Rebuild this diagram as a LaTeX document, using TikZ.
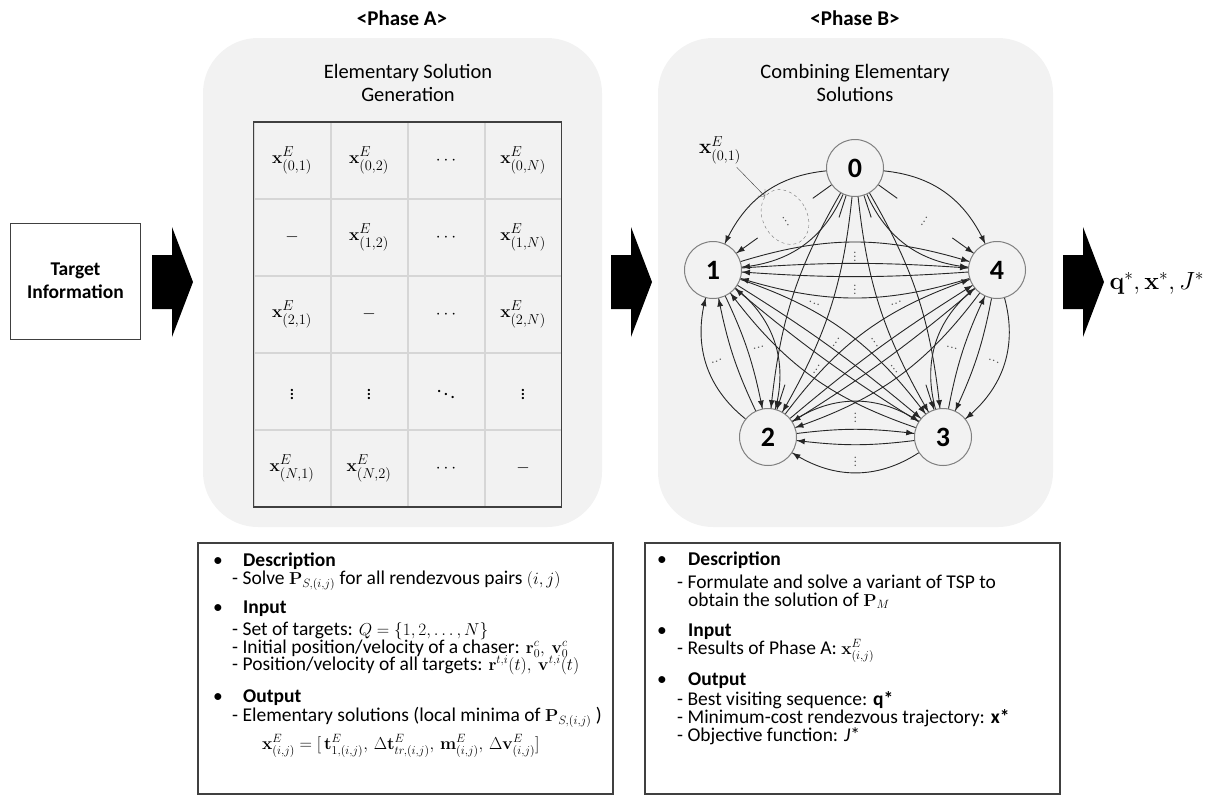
\documentclass[tikz,border=0pt]{standalone}
\usepackage[no-math]{fontspec}
\setmainfont{Carlito}
\usepackage{amsmath}
\tikzset{->/.style = {decoration={markings, mark=at position 1 with {\arrow{Latex[length=8pt,width=6pt]}}}, postaction={decorate}}}
\usetikzlibrary{calc,matrix,arrows.meta,
                 shapes.geometric,
                 decorations.markings}
\definecolor{panelgray}{HTML}{F2F2F2}
\definecolor{gridgray}{HTML}{D6D6D6}
\definecolor{framegray}{HTML}{404040}
\newcommand{\smallmath}[1]{{\fontsize{17}{17}\selectfont$#1$}}
\tikzset{bigarrow/.pic = {\fill (0,-27) -- (20,-27) -- (20,-55) -- (41,0) -- (20,55) -- (20,27) -- (0,27) -- cycle;}}

\begin{document}
\begin{tikzpicture}[x=1pt, y=-1pt,
    phase/.style = {font=\bfseries\fontsize{21}{21}\selectfont},
    title/.style = {align=center, font=\fontsize{20.5}{23}\selectfont},
    cell/.style = {draw=gridgray, line width=1pt, minimum width=76pt, minimum height=76pt, anchor=center, font=\fontsize{19}{19}\selectfont},
    target/.style = {circle, draw=black!50, line width=1pt, fill=panelgray, minimum size=57pt, inner sep=0pt, font=\bfseries\fontsize{28}{28}\selectfont},
    dotsym/.style = {midway, sloped, inner sep=0pt, text=black!65, font=\fontsize{12}{12}\selectfont},
    bul/.style = {anchor=west, inner sep=0pt, text height=14pt, text depth=4pt, font=\fontsize{19.5}{19.5}\selectfont},
    head/.style = {bul, font=\bfseries\fontsize{19.5}{19.5}\selectfont},
    txt/.style = {bul}]
  \useasboundingbox (0,0) rectangle (1225,796);

  % phase panels
  \fill[panelgray, rounded corners=55pt] (203,38) rectangle (602,527);
  \fill[panelgray, rounded corners=55pt] (658,38) rectangle (1053,527);
  \node[phase] (pha) at (402,18) {<Phase A>};
  \node[phase] (phb) at (855,18) {<Phase B>};
  \node[title] (tita) at (408,83) {Elementary Solution\\Generation};
  \node[title] (titb) at (855,83) {Combining Elementary\\Solutions};

  % input and block arrows
  \node[draw=black!75, line width=1pt, minimum width=130pt, minimum height=116pt, align=center,
        font=\bfseries\fontsize{19.5}{23}\selectfont] (tinfo) at (75.5,281) {Target\\Information};
  \pic at (152,282) {bigarrow};
  \pic at (611,282) {bigarrow};
  \pic at (1063,282) {bigarrow};
  \node[anchor=west, font=\fontsize{26}{26}\selectfont] (result) at (1106,283) {$\mathbf{q}^{*}, \mathbf{x}^{*}, J^{*}$};

  % phase A: table of elementary solutions
  \matrix (solmat) [matrix of math nodes, nodes={cell}, column sep=0pt, row sep=0pt, inner sep=0pt] at (407.5,314.5) {
    \mathbf{x}^{E}_{(0,1)} & \mathbf{x}^{E}_{(0,2)} & \cdots & \mathbf{x}^{E}_{(0,N)} \\
    - & \mathbf{x}^{E}_{(1,2)} & \cdots & \mathbf{x}^{E}_{(1,N)} \\
    \mathbf{x}^{E}_{(2,1)} & - & \cdots & \mathbf{x}^{E}_{(2,N)} \\
    \vdots & \vdots & \ddots & \vdots \\
    \mathbf{x}^{E}_{(N,1)} & \mathbf{x}^{E}_{(N,2)} & \cdots & - \\
  };
  \draw[framegray, line width=1.5pt] (solmat.north west) rectangle (solmat.south east);

  % phase B: graph of targets
  \node[target] (t0) at (855,168) {0};
  \node[target] (t1) at (713,270) {1};
  \node[target] (t4) at (997,270) {4};
  \node[target] (t2) at (768,437) {2};
  \node[target] (t3) at (943,437) {3};

  \begin{scope}[black!85, line width=0.9pt]
    \foreach \a/\b in {t1/t2, t2/t3, t3/t4}{
      \draw [->] (\a) to[bend left=7] (\b);
      \draw [->] (\b) to[bend left=7] (\a);
      \draw [->] (\a) to[bend left=33] (\b);
      \draw [->] (\b) to[bend left=33] (\a);
      \path (\a) to[bend left=20] node[dotsym] {$\vdots$} (\b);
      \path (\b) to[bend left=20] node[dotsym] {$\vdots$} (\a);
    }
    \foreach \a/\b in {t1/t4, t1/t3, t2/t4}{
      \draw [->] (\a) to[bend left=4] (\b);
      \draw [->] (\b) to[bend left=4] (\a);
      \draw [->] (\a) to[bend left=17] (\b);
      \draw [->] (\b) to[bend left=17] (\a);
      \path (\a) to[bend left=10] node[dotsym] {$\vdots$} (\b);
      \path (\b) to[bend left=10] node[dotsym] {$\vdots$} (\a);
    }
    \foreach \b/\bb in {t1/30, t4/30, t2/12, t3/12}{
      \draw [->] (t0) to[bend left=\bb] (\b);
      \draw [->] (t0) to[bend right=\bb] (\b);
      \draw (t0) -- ($(t0)!52pt!(\b)$);
      \draw [->] ($(\b)!55pt!(t0)$) -- (\b);
      \path (t0) -- node[dotsym] {$\vdots$} (\b);
    }
  \end{scope}
  \node[draw=black!55, dashed, ellipse, minimum width=44pt, minimum height=58pt, rotate=30] (sel) at (785,217) {};
  \node[font=\fontsize{20}{20}\selectfont] (sellab) at (720,150) {$\mathbf{x}^{E}_{(0,1)}$};
  \draw[black!75, -{Straight Barb[length=5pt]}] (sellab) -- (sel);

  % description of phase A
  \draw[framegray, line width=1.5pt] (198,543) rectangle (613,794);
  \node[bul] (ba1) at (213,561) {•};
  \node[head] (ha1) at (243,561) {Description};
  \node[txt] (la1) at (232,579) {- Solve \smallmath{\mathbf{P}_{S,(i,j)}} for all rendezvous pairs \smallmath{(i,j)}};
  \node[bul] (ba2) at (213,608) {•};
  \node[head] (ha2) at (243,608) {Input};
  \node[txt] (la2) at (232,630) {- Set of targets: \smallmath{Q=\{1,2,\ldots,N\}}};
  \node[txt] (la3) at (232,648) {- Initial position/velocity of a chaser: \smallmath{\mathbf{r}_0^c,\ \mathbf{v}_0^c}};
  \node[txt] (la4) at (232,665) {- Position/velocity of all targets: \smallmath{\mathbf{r}^{t,i}(t),\ \mathbf{v}^{t,i}(t)}};
  \node[bul] (ba3) at (213,697) {•};
  \node[head] (ha3) at (243,697) {Output};
  \node[txt] (la5) at (232,716) {- Elementary solutions (local minima of \smallmath{\mathbf{P}_{S,(i,j)}} )};
  \node[txt] (la6) at (262,744) {\smallmath{\mathbf{x}^{E}_{(i,j)} = [\,\mathbf{t}^{E}_{1,(i,j)},\, \Delta\mathbf{t}^{E}_{tr,(i,j)},\, \mathbf{m}^{E}_{(i,j)},\, \Delta\mathbf{v}^{E}_{(i,j)}]}};

  % description of phase B
  \draw[framegray, line width=1.5pt] (645,543) rectangle (1060,794);
  \node[bul] (bb1) at (657,560) {•};
  \node[head] (hb1) at (688,560) {Description};
  \node[txt] (lb1) at (677,583) {- Formulate and solve a variant of TSP to};
  \node[txt] (lb2) at (688,601) {obtain the solution of \smallmath{\mathbf{P}_{M}}};
  \node[bul] (bb2) at (657,631) {•};
  \node[head] (hb2) at (688,631) {Input};
  \node[txt] (lb3) at (677,649) {- Results of Phase A: \smallmath{\mathbf{x}^{E}_{(i,j)}}};
  \node[bul] (bb3) at (657,680) {•};
  \node[head] (hb3) at (688,680) {Output};
  \node[txt] (lb4) at (677,700) {- Best visiting sequence: \textbf{q*}};
  \node[txt] (lb5) at (677,718) {- Minimum-cost rendezvous trajectory: \textbf{x*}};
  \node[txt] (lb6) at (677,736) {- Objective function: \textit{J}*};
\end{tikzpicture}
\end{document}
